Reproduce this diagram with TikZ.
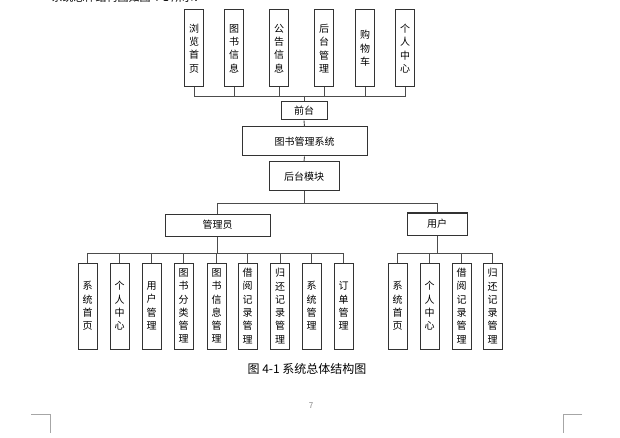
\documentclass[tikz,border=0pt]{standalone}
\usepackage{fontspec}
\setmainfont{Noto Sans CJK SC}

\begin{document}
\begin{tikzpicture}[x=1pt, y=-1pt,
  box/.style={draw=black!80, line width=1pt, inner sep=0pt, align=center,
    font=\fontsize{10}{13.3}\selectfont},
  topbox/.style={box, minimum width=19pt, minimum height=77pt},
  lowbox/.style={box, minimum width=19pt, minimum height=86pt},
  link/.style={black!70, line width=0.9pt},
  cropmark/.style={gray!70, line width=0.6pt}]
\useasboundingbox[fill=white] (0,0) rectangle (620,438);

% text line above the figure, cut by the page edge
\node[anchor=west, font=\fontsize{11}{13}\selectfont] (intro) at (48,-3) {系统总体结构图如图 4-1 所示：};

% front end
\coordinate (topbus) at (304,96);
\foreach \x/\t [count=\i] in {194/浏\\览\\首\\页, 234/图\\书\\信\\息, 279/公\\告\\信\\息,
  324/后\\台\\管\\理, 365/购\\物\\车, 405/个\\人\\中\\心}
{
  \node[topbox] (top\i) at (\x,48.5) {\t};
  \draw[link] (top\i.south) |- (topbus);
}
\node[box, minimum width=46pt, minimum height=18pt] (front) at (304,111) {前台};
\node[box, minimum width=125pt, minimum height=29pt] (sys) at (304.5,141.5) {图书管理系统};
\node[box, minimum width=70pt, minimum height=29pt] (back) at (304,176.5) {后台模块};
\draw[link] (topbus) -- (front.north);
\draw[link] (front.south) -- (sys.north);
\draw[link] (sys.south) -- (back.north);

% back end
\coordinate (midbus) at (304,203);
\node[box, minimum width=105pt, minimum height=22pt] (admin) at (217.5,225) {管理员};
\node[box, minimum width=60pt, minimum height=22pt] (user) at (437,224) {用户};
\draw[link] (back.south) -- (midbus);
\draw[link] (admin.north) |- (midbus);
\draw[link] (user.north) |- (midbus);

\coordinate (admbus) at (217.5,253);
\draw[link] (admin.south) -- (admbus);
\foreach \x/\t [count=\i] in {87.5/系\\统\\首\\页, 119.5/个\\人\\中\\心, 151.5/用\\户\\管\\理,
  183.5/图\\书\\分\\类\\管\\理, 216.5/图\\书\\信\\息\\管\\理, 247.5/借\\阅\\记\\录\\管\\理,
  280/归\\还\\记\\录\\管\\理, 311.5/系\\统\\管\\理, 343.5/订\\单\\管\\理}
{
  \node[lowbox] (adm\i) at (\x,306) {\t};
  \draw[link] (adm\i.north) |- (admbus);
}

\coordinate (usrbus) at (437,253);
\draw[link] (user.south) -- (usrbus);
\foreach \x/\t [count=\i] in {397.5/系\\统\\首\\页, 429.5/个\\人\\中\\心,
  461.5/借\\阅\\记\\录\\管\\理, 492.5/归\\还\\记\\录\\管\\理}
{
  \node[lowbox] (usr\i) at (\x,306) {\t};
  \draw[link] (usr\i.north) |- (usrbus);
}

% caption and page
\node[font=\fontsize{12}{14}\selectfont] (cap) at (307,369) {图 4-1 系统总体结构图};
\node[text=gray, font=\fontsize{8}{9}\selectfont] (page) at (311,406) {7};
\draw[cropmark] (31,414) -- (50,414) -- (50,433);
\draw[cropmark] (582,414) -- (563,414) -- (563,433);
\end{tikzpicture}
\end{document}
